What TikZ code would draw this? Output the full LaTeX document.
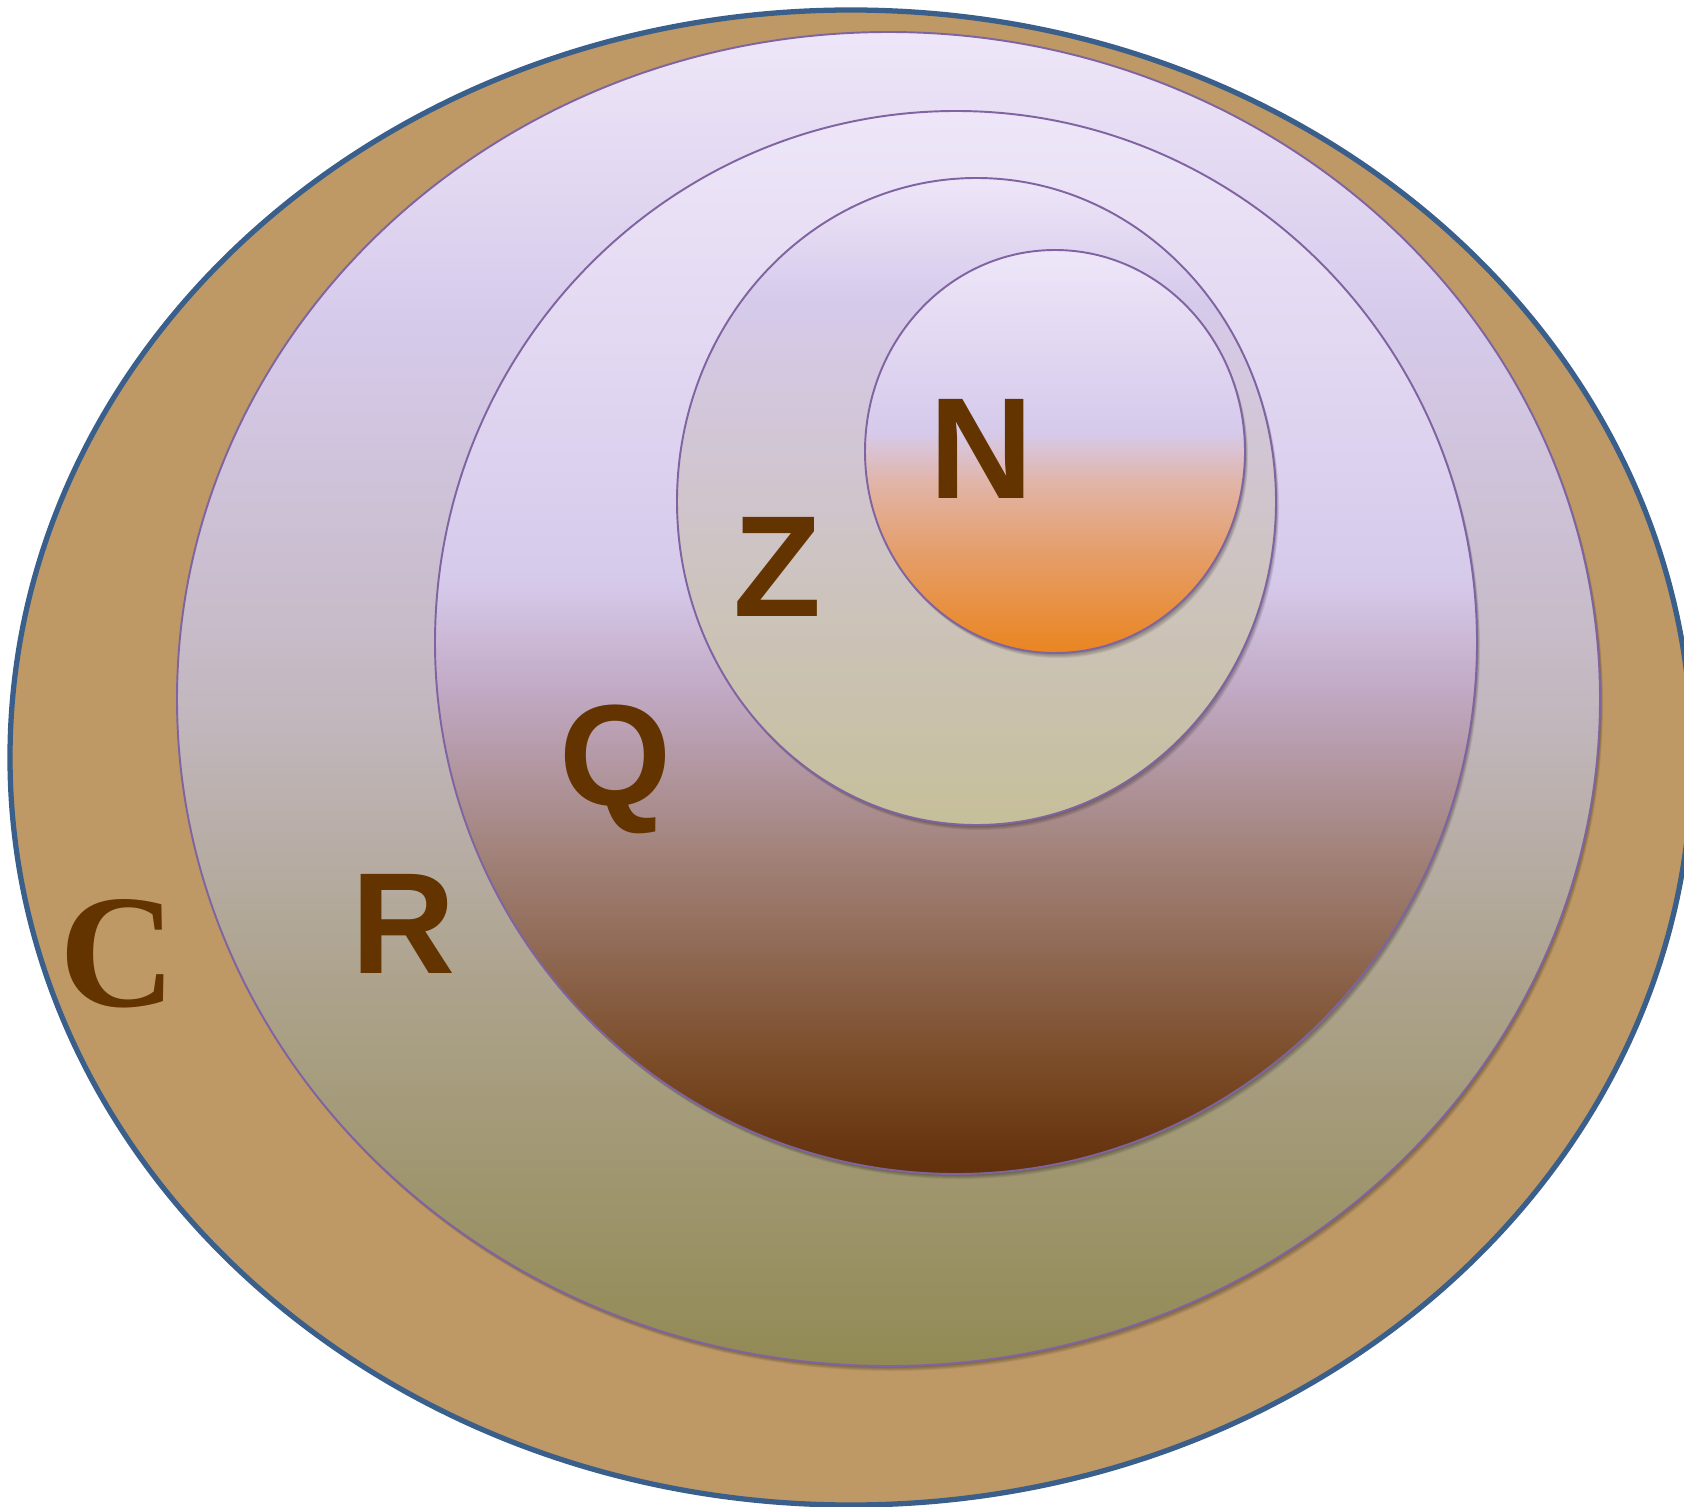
\documentclass[tikz,border=0pt]{standalone}
\usepackage{fontspec}
\newfontfamily\labelsans{Liberation Sans}
\newfontfamily\labelserif{Liberation Serif}
\usepackage{tikz}
\definecolor{setTan}{RGB}{190,153,102}
\definecolor{setBlue}{RGB}{58,95,139}
\definecolor{setLine}{RGB}{128,100,162}
\definecolor{letterBrown}{RGB}{99,51,0}
\definecolor{lavTop}{RGB}{238,230,248}
\definecolor{lavMid}{RGB}{214,202,235}
\definecolor{rGrey}{RGB}{195,184,192}
\definecolor{rKhaki}{RGB}{174,164,143}
\definecolor{rOlive}{RGB}{146,138,84}
\definecolor{qMauve}{RGB}{192,168,194}
\definecolor{qRose}{RGB}{161,130,121}
\definecolor{qBrownMid}{RGB}{122,75,38}
\definecolor{qBrown}{RGB}{98,48,10}
\definecolor{zGrey}{RGB}{208,197,206}
\definecolor{zKhaki}{RGB}{198,191,154}
\definecolor{nPink}{RGB}{225,180,166}
\definecolor{nPeach}{RGB}{229,158,106}
\definecolor{nOrange}{RGB}{234,133,32}
\pgfdeclareverticalshading{shadeR}{100bp}{color(0bp)=(rOlive); color(25bp)=(rOlive);
  color(40bp)=(rKhaki); color(50bp)=(rGrey); color(64bp)=(lavMid); color(75bp)=(lavTop); color(100bp)=(lavTop)}
\pgfdeclareverticalshading{shadeQ}{100bp}{color(0bp)=(qBrown); color(25bp)=(qBrown);
  color(30bp)=(qBrownMid); color(40bp)=(qRose); color(47.5bp)=(qMauve); color(53bp)=(lavMid);
  color(75bp)=(lavTop); color(100bp)=(lavTop)}
\pgfdeclareverticalshading{shadeZ}{100bp}{color(0bp)=(zKhaki); color(25bp)=(zKhaki);
  color(51.5bp)=(zGrey); color(65.5bp)=(lavMid); color(75bp)=(lavTop); color(100bp)=(lavTop)}
\pgfdeclareverticalshading{shadeN}{100bp}{color(0bp)=(nOrange); color(25bp)=(nOrange);
  color(37.5bp)=(nPeach); color(46bp)=(nPink); color(52.5bp)=(lavMid); color(75bp)=(lavTop); color(100bp)=(lavTop)}
\tikzset{
  setC/.style={fill=setTan, draw=setBlue, line width=3pt},
  subset/.style={draw=setLine, line width=1.1pt},
  halo/.style={fill=black, opacity=0.08},
  letter/.style={inner sep=0pt, anchor=base, text=letterBrown,
              font=\labelsans\fontsize{82}{82}\selectfont\bfseries},
  serifletter/.style={letter, font=\labelserif\fontsize{92}{92}\selectfont\bfseries},
}
\begin{document}
\begin{tikzpicture}[x=0.02cm, y=-0.02cm]
  \useasboundingbox (0,0) rectangle (1684,1507);
  % complex numbers
  \filldraw[setC] (851,757.5) ellipse [x radius=841, y radius=747.5];
  % reals
  \foreach \s in {1,...,5}
    \fill[halo, shift={(0.6*\s,1.0*\s)}] (888.5,699) ellipse [x radius=711.5, y radius=667];
  \shadedraw[subset, shading=shadeR] (888.5,699) ellipse [x radius=711.5, y radius=667];
  % rationals
  \foreach \s in {1,...,5}
    \fill[halo, shift={(0.6*\s,1.0*\s)}] (956,642.5) ellipse [x radius=521, y radius=531.5];
  \shadedraw[subset, shading=shadeQ] (956,642.5) ellipse [x radius=521, y radius=531.5];
  % integers
  \foreach \s in {1,...,5}
    \fill[halo, shift={(0.6*\s,1.0*\s)}] (976.5,501.5) ellipse [x radius=299.5, y radius=323.5];
  \shadedraw[subset, shading=shadeZ] (976.5,501.5) ellipse [x radius=299.5, y radius=323.5];
  % naturals
  \foreach \s in {1,...,5}
    \fill[halo, shift={(0.6*\s,1.0*\s)}] (1055,451.5) ellipse [x radius=190, y radius=201.5];
  \shadedraw[subset, shading=shadeN] (1055,451.5) ellipse [x radius=190, y radius=201.5];
  % labels
  \node[serifletter] (labC) at (118,1006) {C};
  \node[letter] (labR) at (404,973) {R};
  \node[letter] (labQ) at (616,805) {Q};
  \node[letter] (labZ) at (777,616) {Z};
  \node[letter] (labN) at (982,498) {N};
\end{tikzpicture}
\end{document}
